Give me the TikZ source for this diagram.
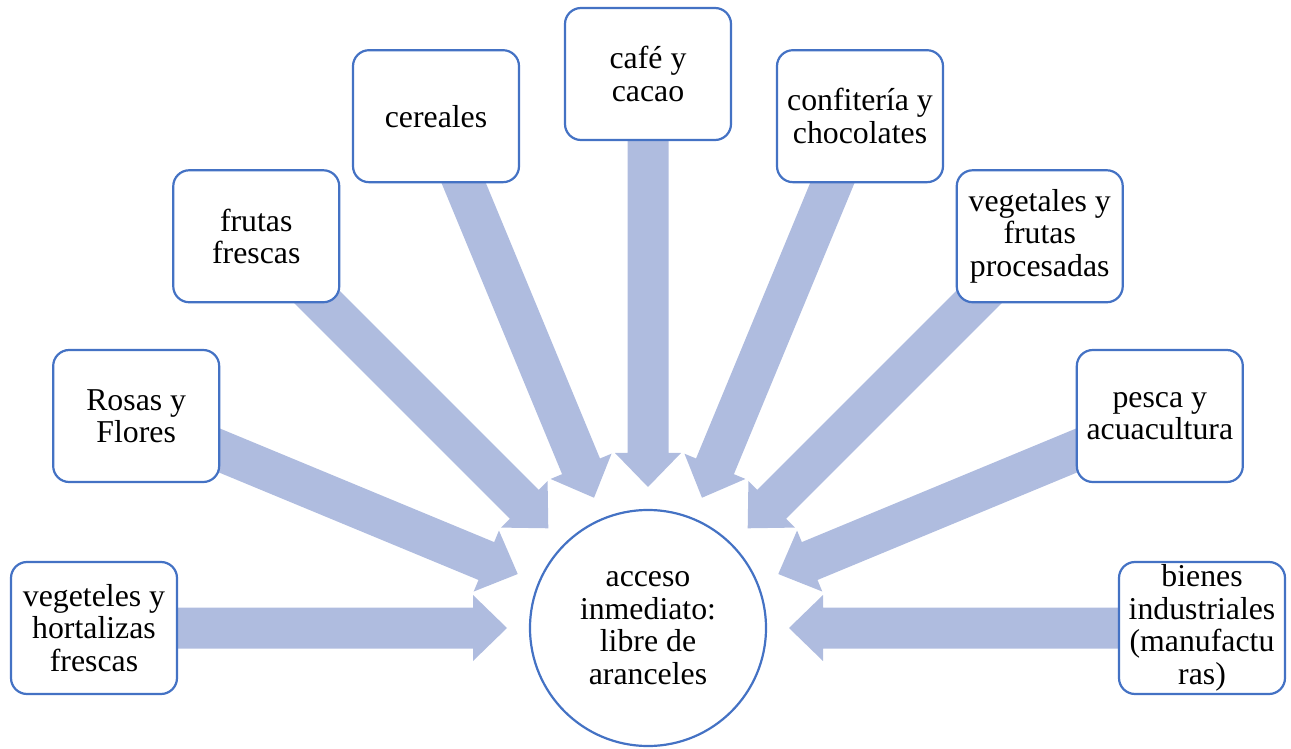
\documentclass[tikz,border=0pt]{standalone}
\usepackage{fontspec}
\setmainfont{Liberation Serif}
\definecolor{boxblue}{HTML}{4472C4}
\definecolor{arrowfill}{HTML}{AFBCDF}
\begin{document}
\begin{tikzpicture}[x=1pt,y=1pt,
  txt/.style={font=\fontsize{31.8}{32.5}\selectfont},
  itembox/.style={txt, draw=boxblue, line width=2.2pt, fill=white, rounded corners=16pt,
    minimum width=166pt, minimum height=132pt, inner sep=0pt, align=center},
  hubcircle/.style={txt, circle, draw=boxblue, line width=2.2pt, fill=white,
    minimum size=236pt, inner sep=0pt, align=center},
  blockarrow/.style={fill=arrowfill, draw=none}]
\useasboundingbox (0,0) rectangle (1291,748);
\coordinate (C) at (648,120);
% block arrows (drawn first, under the boxes)
\foreach \a in {180,157.5,135,112.5,90,67.5,45,22.5,0}{
  \fill[blockarrow, shift={(C)}, rotate=\a]
    (141,0) -- (175,33) -- (175,20.5) -- (554,20.5) -- (554,-20.5)
    -- (175,-20.5) -- (175,-33) -- cycle;
}
\node[hubcircle] (hub) at (C) {acceso\\inmediato:\\libre de\\aranceles};
\node[itembox] (b1) at ([shift={(180:554)}]C) {vegeteles y\\hortalizas\\frescas};
\node[itembox] (b2) at ([shift={(157.5:554)}]C) {Rosas y\\Flores};
\node[itembox] (b3) at ([shift={(135:554)}]C) {frutas\\frescas};
\node[itembox] (b4) at ([shift={(112.5:554)}]C) {cereales};
\node[itembox] (b5) at ([shift={(90:554)}]C) {café y\\cacao};
\node[itembox] (b6) at ([shift={(67.5:554)}]C) {confitería y\\chocolates};
\node[itembox] (b7) at ([shift={(45:554)}]C) {vegetales y\\frutas\\procesadas};
\node[itembox] (b8) at ([shift={(22.5:554)}]C) {pesca y\\acuacultura};
\node[itembox] (b9) at ([shift={(0:554)}]C) {bienes\\industriales\\(manufactu\\ras)};
\end{tikzpicture}
\end{document}
